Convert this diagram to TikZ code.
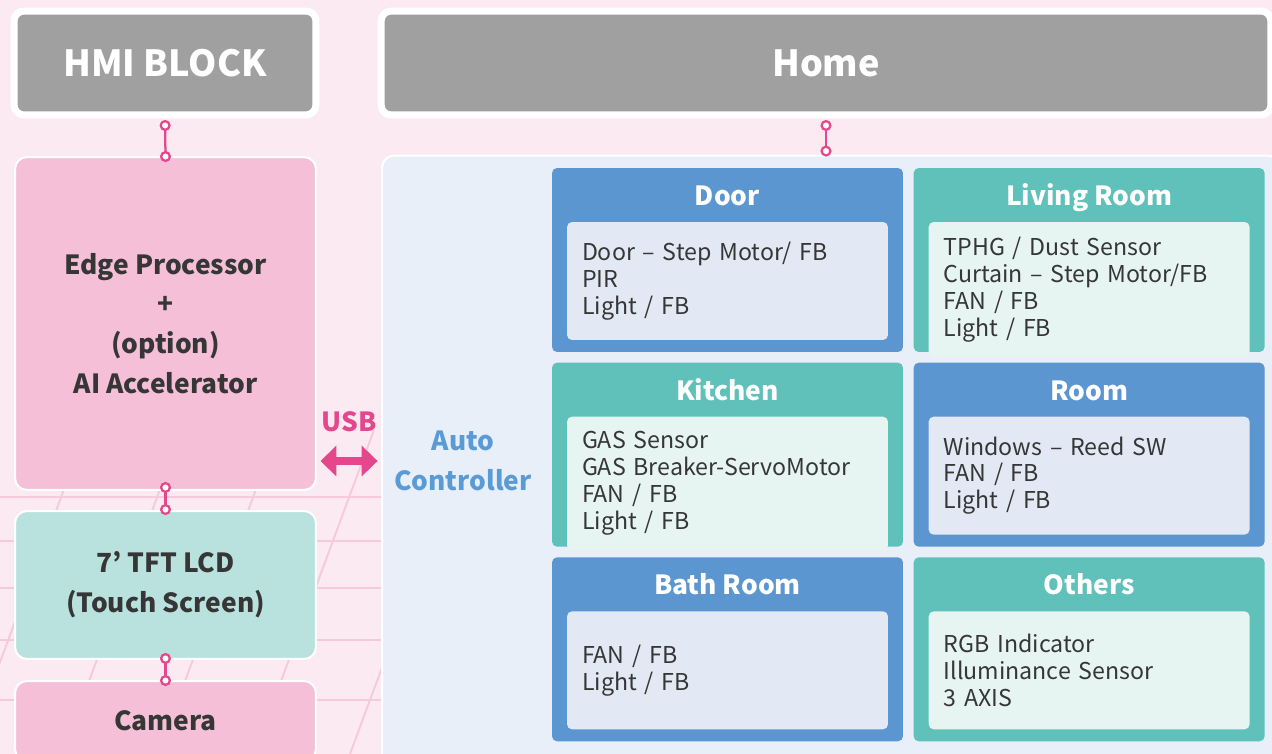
\documentclass[tikz,border=0pt]{standalone}
\usepackage{fontspec}
\setmainfont{Noto Sans CJK KR}
\usepackage{tikz}
\usetikzlibrary{positioning}
\usetikzlibrary{arrows.meta,calc}

\definecolor{bgpink}{HTML}{FCEAF2}
\definecolor{gridpink}{HTML}{F7CADB}
\definecolor{hmigray}{HTML}{A0A0A0}
\definecolor{edgepink}{HTML}{F5C0D7}
\definecolor{lcdteal}{HTML}{B9E2DF}
\definecolor{linkpink}{HTML}{E4478B}
\definecolor{panelblue}{HTML}{E8EFF8}
\definecolor{autoblue}{HTML}{5B9BD5}
\definecolor{roomblue}{HTML}{5B96D1}
\definecolor{blueinner}{HTML}{E2E9F4}
\definecolor{roomteal}{HTML}{5FC1B9}
\definecolor{tealinner}{HTML}{E6F5F2}
\definecolor{textdark}{HTML}{363636}

\begin{document}
\begin{tikzpicture}[x=0.02cm, y=-0.02cm,
  titlebox/.style={draw=white, rectangle, rounded corners=0.2cm, fill=hmigray, line width=0.14cm, text=white, font=\fontsize{20.5}{24}\selectfont\bfseries, minimum height=2.08cm},
  hmibox/.style={draw=white, rectangle, rounded corners=0.24cm, line width=0.04cm, minimum width=6.02cm, text=textdark, align=center, font=\fontsize{15}{22.6}\selectfont\bfseries},
  link/.style={draw=linkpink, line width=0.045cm, {Circle[open, fill=white, length=0.22cm]}-{Circle[open, fill=white, length=0.22cm]}},
  roomcard/.style={rectangle, rounded corners=0.1cm, minimum width=7.02cm, minimum height=3.68cm},
  roomtitle/.style={text=white, font=\fontsize{15}{18}\selectfont\bfseries, text height=1.6ex, text depth=0.4ex, inner sep=0pt},
  roombody/.style={rectangle, rounded corners=0.1cm, anchor=north, text width=5.82cm, minimum height=2.36cm, inner sep=0.3cm, align=left, text=textdark, font=\fontsize{13.2}{15.3}\selectfont},
  gridline/.style={draw=gridpink, line width=0.04cm}]
  \useasboundingbox (0,0) rectangle (1272,754);
  \fill[bgpink] (0,0) rectangle (1272,754);
  % Floor grid
  \begin{scope}
    \clip (0,430) rectangle (382,754);
    \foreach \y in {497,541,588,640,700}
      \draw[gridline] (0,\y) -- (382,\y);
    \foreach \x in {-10,86,182,278,374,470}
      \draw[gridline] (\x,430) -- ++(-120,324);
  \end{scope}
  % Nodes
  \node [titlebox, minimum width=6.04cm] (hmi) at (165,63) {HMI BLOCK};
  \node [titlebox, minimum width=17.8cm] (home) at (826,63) {Home};
  \node [hmibox, fill=edgepink, minimum height=6.66cm] (edge) at (165.5,323.5) {Edge Processor\\+\\(option)\\AI Accelerator};
  \node [hmibox, fill=lcdteal, minimum height=2.96cm] (lcd) at (165.5,585) {7' TFT LCD\\(Touch Screen)};
  \node [hmibox, fill=edgepink, minimum height=1.6cm] (camera) at (165.5,721) {Camera};
  \node [draw=white, rectangle, rounded corners=0.24cm, fill=panelblue, line width=0.04cm, minimum width=17.96cm, minimum height=12.9cm] (panel) at (831,478) {};
  \node [text=autoblue, align=center, font=\fontsize{15}{22.6}\selectfont\bfseries] (autoctl) at (463,461) {Auto\\Controller};
  % Rooms
  \node [roomcard, fill=roomblue] (door) at (727.5,260) {};
  \node [roomcard, fill=roomteal, right=0.2cm of door] (living) {};
  \node [roomcard, fill=roomteal, below=0.2cm of door] (kitchen) {};
  \node [roomcard, fill=roomblue, right=0.2cm of kitchen] (room) {};
  \node [roomcard, fill=roomblue, below=0.2cm of kitchen] (bath) {};
  \node [roomcard, fill=roomteal, right=0.2cm of bath] (others) {};
  \node [roomtitle] (doortitle) at ([yshift=-0.64cm]door.north) {Door};
  \node [roomtitle] (livingtitle) at ([yshift=-0.64cm]living.north) {Living Room};
  \node [roomtitle] (kitchentitle) at ([yshift=-0.64cm]kitchen.north) {Kitchen};
  \node [roomtitle] (roomtitle) at ([yshift=-0.64cm]room.north) {Room};
  \node [roomtitle] (bathtitle) at ([yshift=-0.64cm]bath.north) {Bath Room};
  \node [roomtitle] (otherstitle) at ([yshift=-0.64cm]others.north) {Others};
  \node [roombody, fill=blueinner] (doorbody) at ([yshift=-1.08cm]door.north) {Door – Step Motor/ FB\\PIR\\Light / FB};
  \node [roombody, fill=tealinner] (livingbody) at ([yshift=-1.08cm]living.north) {TPHG / Dust Sensor\\Curtain – Step Motor/FB\\FAN / FB\\Light / FB};
  \node [roombody, fill=tealinner] (kitchenbody) at ([yshift=-1.08cm]kitchen.north) {GAS Sensor\\GAS Breaker-ServoMotor\\FAN / FB\\Light / FB};
  \node [roombody, fill=blueinner] (roombody) at ([yshift=-1.08cm]room.north) {Windows – Reed SW\\FAN / FB\\Light / FB};
  \node [roombody, fill=blueinner] (bathbody) at ([yshift=-1.08cm]bath.north) {FAN / FB\\Light / FB};
  \node [roombody, fill=tealinner] (othersbody) at ([yshift=-1.08cm]others.north) {RGB Indicator\\Illuminance Sensor\\3 AXIS};
  % Arrows
  \draw [link, shorten <=0.03cm, shorten >=-0.12cm] (hmi.south) -- (edge.north);
  \draw [link, shorten <=-0.18cm, shorten >=-0.1cm] (edge.south) -- (lcd.north);
  \draw [link, shorten <=-0.14cm, shorten >=-0.12cm] (lcd.south) -- (camera.north);
  \draw [link, shorten <=0.03cm, shorten >=-0.04cm] (home.south) -- (home.south |- panel.north);
  \draw [linkpink, line width=0.17cm, {Triangle[length=0.32cm, width=0.6cm]}-{Triangle[length=0.32cm, width=0.6cm]}, shorten <=0.07cm, shorten >=0.07cm] (edge.east |- autoctl) -- node[midway, yshift=0.78cm, text=linkpink, font=\fontsize{15}{18}\selectfont\bfseries] (usb) {USB} (panel.west |- autoctl);
\end{tikzpicture}
\end{document}
